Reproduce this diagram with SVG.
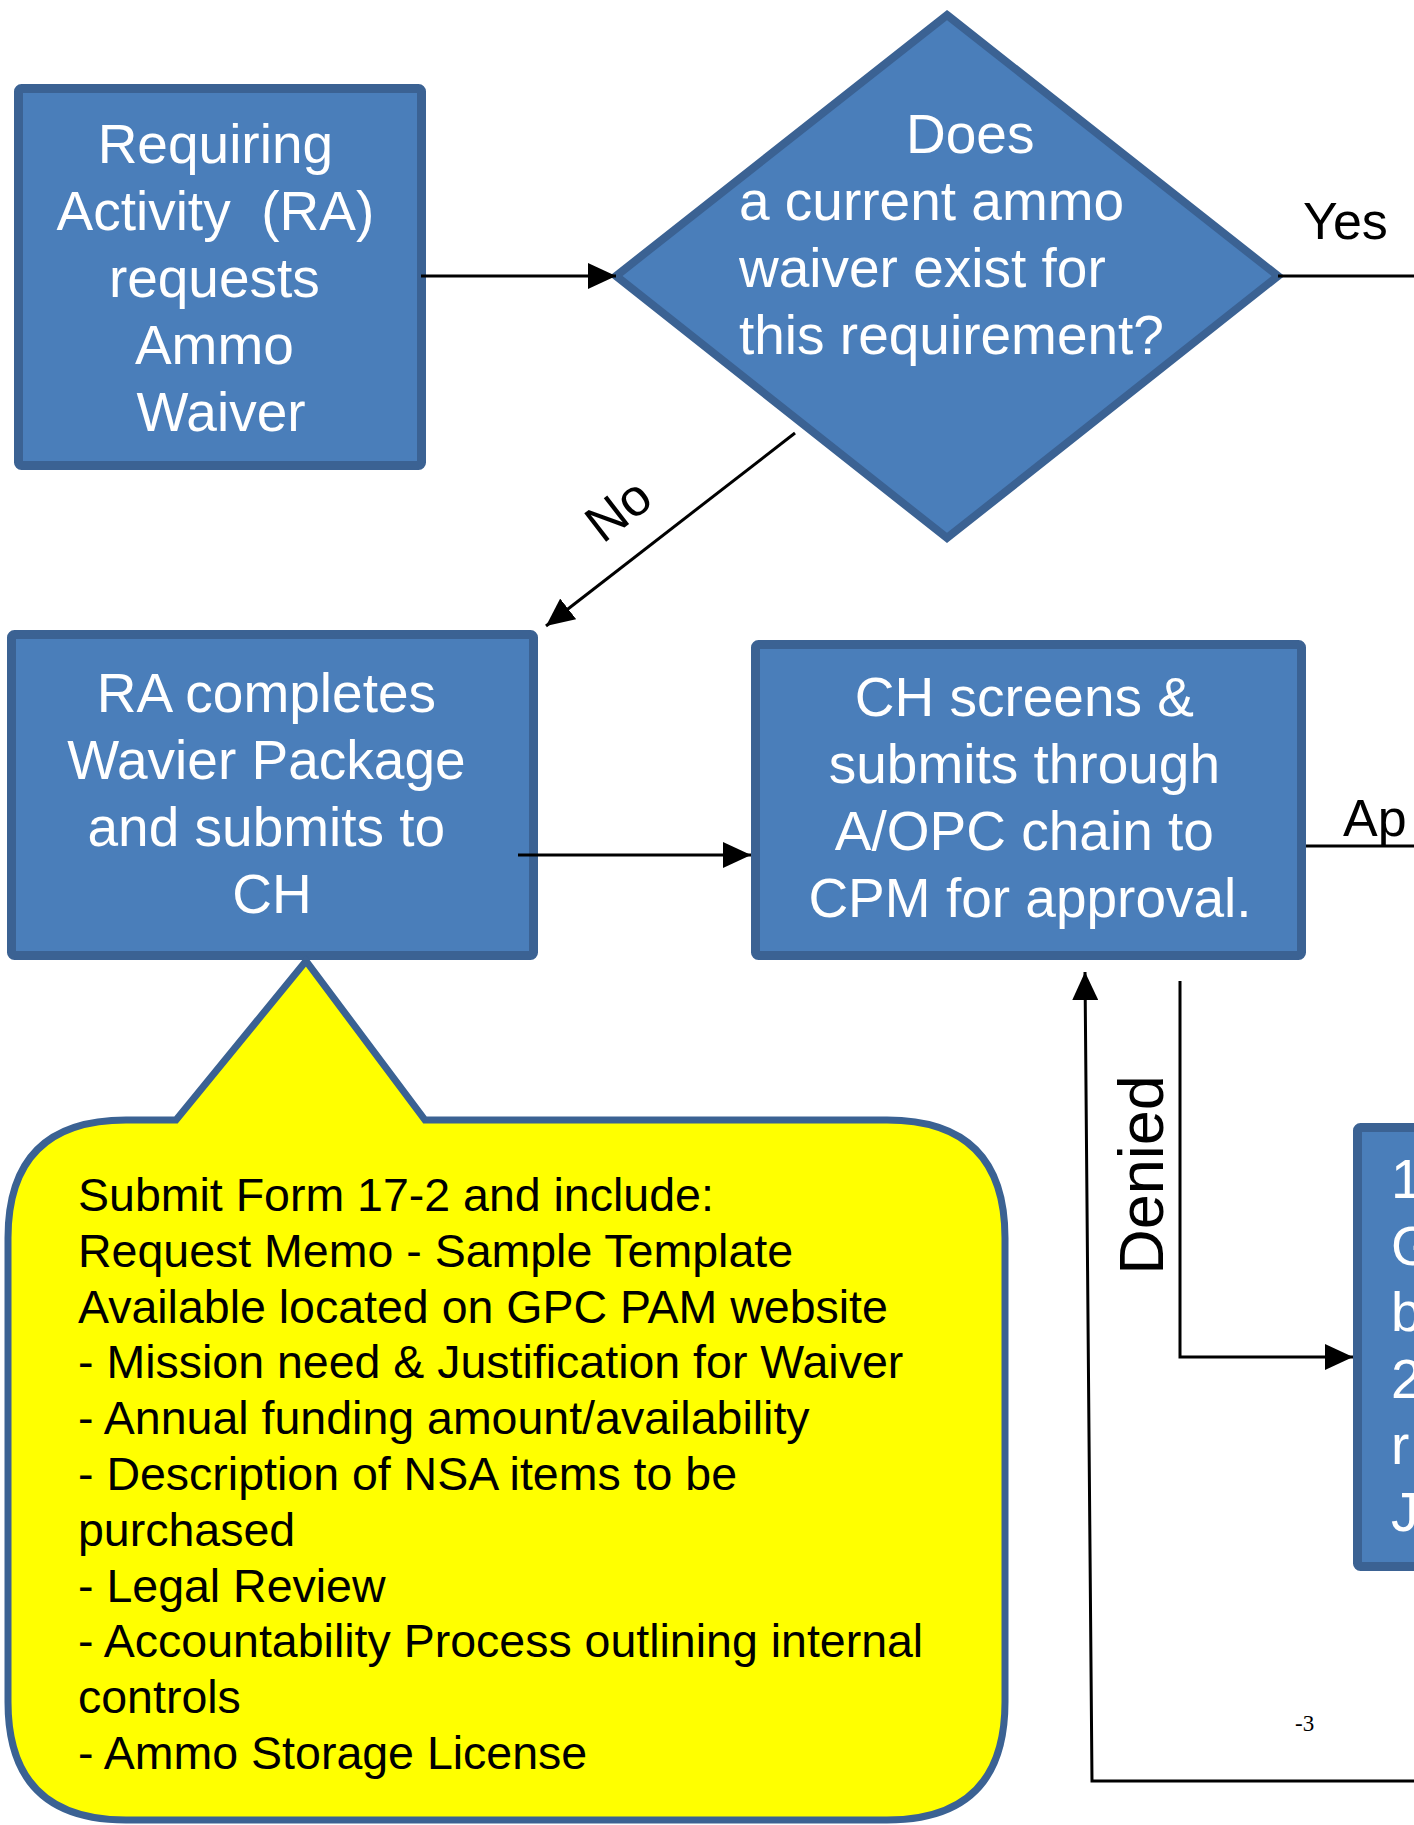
<svg xmlns="http://www.w3.org/2000/svg" width="1414" height="1825" viewBox="0 0 1414 1825">
<defs>
<style>
.box{fill:#4A7EBA;stroke:#3B6293;stroke-width:9;}
.wt{font-family:"Liberation Sans",Arial,sans-serif;font-size:55px;fill:#FFFFFF;}
.bt{font-family:"Liberation Sans",Arial,sans-serif;fill:#000000;}
.ln{fill:none;stroke:#000000;stroke-width:3;}
</style>
<marker id="ah" markerUnits="userSpaceOnUse" markerWidth="30" markerHeight="26" refX="28" refY="13" orient="auto">
<path d="M0,0 L28,13 L0,26 z" fill="#000000"/>
</marker>
</defs>
<rect x="0" y="0" width="1414" height="1825" fill="#FFFFFF"/>

<g id="node-request">
<rect class="box" x="18.5" y="88.5" width="403" height="377" rx="3"/>
<text class="wt" text-anchor="middle">
<tspan x="223" y="163">Requiring</tspan>
<tspan x="223" y="230">Activity&#160; (RA)</tspan>
<tspan x="222" y="297">requests</tspan>
<tspan x="222" y="364">Ammo</tspan>
<tspan x="221" y="431">Waiver</tspan>
</text>
</g>

<g id="node-decision">
<polygon points="947,15 1278,276 947,538 616,276" fill="#4A7EBA" stroke="#3B6293" stroke-width="8" stroke-linejoin="miter"/>
<text class="wt" x="906" y="153">Does</text>
<text class="wt">
<tspan x="739" y="220">a current ammo</tspan>
<tspan x="739" y="287">waiver exist for</tspan>
<tspan x="739" y="354">this requirement?</tspan>
</text>
</g>

<g id="node-package">
<rect class="box" x="11.5" y="634.5" width="522" height="321" rx="3"/>
<text class="wt" text-anchor="middle">
<tspan x="274" y="712">RA completes</tspan>
<tspan x="274" y="779">Wavier Package</tspan>
<tspan x="274" y="846">and submits to</tspan>
<tspan x="272" y="913">CH</tspan>
</text>
</g>

<g id="node-screen">
<rect class="box" x="755.5" y="644.5" width="546" height="311" rx="3"/>
<text class="wt" text-anchor="middle">
<tspan x="1032" y="716">CH screens &amp;</tspan>
<tspan x="1032" y="783">submits through</tspan>
<tspan x="1032" y="850">A/OPC chain to</tspan>
<tspan x="1030" y="917">CPM for approval.</tspan>
</text>
</g>

<g id="node-partial">
<rect class="box" x="1357.5" y="1127.5" width="200" height="439" rx="3"/>
<text class="wt">
<tspan x="1391" y="1198">1</tspan>
<tspan x="1391" y="1265">G</tspan>
<tspan x="1391" y="1331">b</tspan>
<tspan x="1391" y="1398">2</tspan>
<tspan x="1391" y="1464">r</tspan>
<tspan x="1391" y="1531">J</tspan>
</text>
</g>

<g id="node-callout">
<path d="M176,1120 L306,961 L425,1120 L887,1120 Q1005,1120 1005,1238 L1005,1702 Q1005,1820 887,1820 L126,1820 Q8,1820 8,1702 L8,1238 Q8,1120 126,1120 Z" fill="#FFFF00" stroke="#3B6293" stroke-width="7" stroke-linejoin="miter"/>
<text class="bt" font-size="46.5">
<tspan x="78" y="1211">Submit Form 17-2 and include:</tspan>
<tspan x="78" y="1267">Request Memo - Sample Template</tspan>
<tspan x="78" y="1323">Available located on GPC PAM website</tspan>
<tspan x="78" y="1378">- Mission need &amp; Justification for Waiver</tspan>
<tspan x="78" y="1434">- Annual funding amount/availability</tspan>
<tspan x="78" y="1490">- Description of NSA items to be</tspan>
<tspan x="78" y="1546">purchased</tspan>
<tspan x="78" y="1602">- Legal Review</tspan>
<tspan x="78" y="1657">- Accountability Process outlining internal</tspan>
<tspan x="78" y="1713">controls</tspan>
<tspan x="78" y="1769">- Ammo Storage License</tspan>
</text>
</g>

<g id="connectors">
<line class="ln" x1="421" y1="276" x2="616" y2="276" marker-end="url(#ah)"/>
<line class="ln" x1="1278" y1="276" x2="1414" y2="276"/>
<line class="ln" x1="795" y1="433" x2="546" y2="626" marker-end="url(#ah)"/>
<line class="ln" x1="518" y1="855" x2="751" y2="855" marker-end="url(#ah)"/>
<line class="ln" x1="1306" y1="846" x2="1414" y2="846"/>
<polyline class="ln" points="1180,981 1180,1357 1353,1357" marker-end="url(#ah)"/>
<polyline class="ln" points="1414,1781 1092,1781 1085,972" marker-end="url(#ah)"/>
<text class="bt" x="1303" y="239" font-size="52">Yes</text>
<text class="bt" x="1343" y="836" font-size="52">Ap</text>
<text class="bt" font-size="52" text-anchor="middle" transform="translate(629,524) rotate(-37.7)">No</text>
<text class="bt" font-size="63" text-anchor="middle" transform="translate(1163,1175) rotate(-90)">Denied</text>
</g>

<text x="1295" y="1731" font-family="'Liberation Serif','Times New Roman',serif" font-size="23" fill="#000000">-3</text>
</svg>
